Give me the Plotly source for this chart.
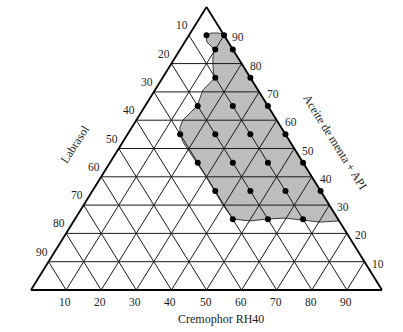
import plotly.graph_objects as go

# ---- data (ternary: Aceite de menta + API = top, Labrasol = bottom-left, Cremophor RH40 = bottom-right)
grid_values = [10, 20, 30, 40, 50, 60, 70, 80, 90]
horizontal_levels = [10, 20, 30, 40, 50, 60, 70, 80]
labrasol_ticks = [10, 20, 30, 40, 50, 60, 70, 80, 90]
cremophor_ticks = [10, 20, 30, 40, 50, 60, 70, 80, 90]
aceite_ticks = [90, 80, 70, 60, 50, 40, 30, 20, 10]

dot_aceite = [90, 90, 85, 85, 75, 75, 65, 65, 65, 55, 55, 55, 55, 45, 45, 45, 45,
              35, 35, 35, 35, 25, 25, 25]
dot_labrasol = [5, 0, 5, 0, 10, 0, 20, 10, 0, 30, 20, 10, 0, 30, 20, 10, 0,
                30, 20, 10, 0, 30, 20, 10]
dot_cremophor = [5, 10, 10, 15, 15, 25, 15, 25, 35, 15, 25, 35, 45, 25, 35, 45, 55,
                 35, 45, 55, 65, 45, 55, 65]

region_aceite = [89.8, 87.6, 85.9, 84.8, 82.0, 78.8, 76.0, 74.6, 70.7, 65.0, 62.5, 60.1,
                 57.6, 55.1, 52.3, 50.2, 47.7, 44.9, 40.6, 35.3, 30.0, 25.1, 24.4, 25.1,
                 25.4, 24.7, 24.0, 24.4, 90.5, 90.8, 90.8]
region_labrasol = [5.2, 6.1, 5.5, 5.5, 7.2, 8.75, 9.9, 10.6, 15.65, 20.2, 23.45, 26.65,
                   28.75, 30.0, 30.55, 30.46, 30.3, 30.25, 30.1, 30.2, 30.3, 29.9, 25.4,
                   19.9, 14.9, 10.2, 5.66, 0.0, 0.0, 1.3, 3.3]
region_cremophor = [5.0, 6.3, 8.6, 9.7, 10.85, 12.45, 14.1, 14.8, 13.65, 14.8, 14.05,
                    13.25, 13.65, 14.9, 17.15, 19.34, 22.0, 24.85, 29.27, 34.5, 39.7, 45.0,
                    50.19, 54.97, 59.66, 65.1, 70.34, 75.6, 9.5, 7.9, 5.9]

title_left = "Labrasol"
title_bottom = "Cremophor RH40"
title_right = "Aceite de menta + API"


def to_xy(a, b, c):
    s = a + b + c
    return (c + a / 2.0) / s * 100.0, a / s * 100.0


def seg_trace(segments, width, color):
    xs, ys = [], []
    for p, q in segments:
        x0, y0 = to_xy(*p)
        x1, y1 = to_xy(*q)
        xs += [x0, x1, None]
        ys += [y0, y1, None]
    return go.Scatter(x=xs, y=ys, mode="lines", line=dict(color=color, width=width),
                      hoverinfo="skip")


fig = go.Figure()

# shaded region
rx, ry = [], []
for a, b, c in zip(region_aceite, region_labrasol, region_cremophor):
    x, y = to_xy(a, b, c)
    rx.append(x)
    ry.append(y)
rx.append(rx[0])
ry.append(ry[0])
fig.add_trace(go.Scatter(x=rx, y=ry, mode="lines", fill="toself",
                         fillcolor="#bdbdbd", line=dict(color="#3a3a3a", width=1),
                         hoverinfo="skip"))

# grid
segs = []
for L in horizontal_levels:
    segs.append(((L, 100 - L, 0), (L, 0, 100 - L)))
for L in grid_values:
    segs.append(((100 - L, L, 0), (0, L, 100 - L)))
    segs.append(((100 - L, 0, L), (0, 100 - L, L)))
fig.add_trace(seg_trace(segs, 1, "#1a1a1a"))

# border
border = [((100, 0, 0), (0, 100, 0)), ((0, 100, 0), (0, 0, 100)), ((0, 0, 100), (100, 0, 0))]
fig.add_trace(seg_trace(border, 1.8, "#000000"))

# dots
dx, dy = [], []
for a, b, c in zip(dot_aceite, dot_labrasol, dot_cremophor):
    x, y = to_xy(a, b, c)
    dx.append(x)
    dy.append(y)
fig.add_trace(go.Scatter(x=dx, y=dy, mode="markers",
                         marker=dict(color="#000000", size=6), hoverinfo="skip"))

font_tick = dict(family="Liberation Serif, Times New Roman, serif", size=11.5, color="#1e1e1e")
font_title = dict(family="Liberation Serif, Times New Roman, serif", size=12, color="#1e1e1e")

ann = []
for L in labrasol_ticks:
    x, y = to_xy(100 - L, L, 0)
    ann.append(dict(x=x, y=y, xref="x", yref="y", text=str(L), showarrow=False,
                    xshift=-7, yshift=10, font=font_tick))
for L in cremophor_ticks:
    x, y = to_xy(0, 100 - L, L)
    ann.append(dict(x=x, y=y, xref="x", yref="y", text=str(L), showarrow=False,
                    xshift=-1, yshift=-12, font=font_tick))
for L in aceite_ticks:
    x, y = to_xy(L, 0, 100 - L)
    ann.append(dict(x=x, y=y, xref="x", yref="y", text=str(L), showarrow=False,
                    xshift=14, yshift=-2, font=font_tick))

x, y = to_xy(50, 50, 0)
ann.append(dict(x=x, y=y, xref="x", yref="y", text=title_left, showarrow=False,
                xshift=-44, yshift=5, textangle=-57, font=font_title))
x, y = to_xy(0, 50, 50)
ann.append(dict(x=x, y=y, xref="x", yref="y", text=title_bottom, showarrow=False,
                xshift=14, yshift=-29, font=font_title))
x, y = to_xy(50, 0, 50)
ann.append(dict(x=x, y=y, xref="x", yref="y", text=title_right, showarrow=False,
                xshift=41, yshift=7, textangle=58, font=font_title))

fig.update_layout(
    width=403, height=332,
    margin=dict(l=0, r=0, t=0, b=0),
    paper_bgcolor="white", plot_bgcolor="white",
    showlegend=False,
    annotations=ann,
    xaxis=dict(range=[-8.83, 105.98], visible=False, fixedrange=True),
    yaxis=dict(range=[-14.84, 102.47], visible=False, fixedrange=True),
)

fig.write_html("out.html", config={"displayModeBar": False},
               post_script="document.body.style.margin='0';document.body.style.overflow='hidden';")
